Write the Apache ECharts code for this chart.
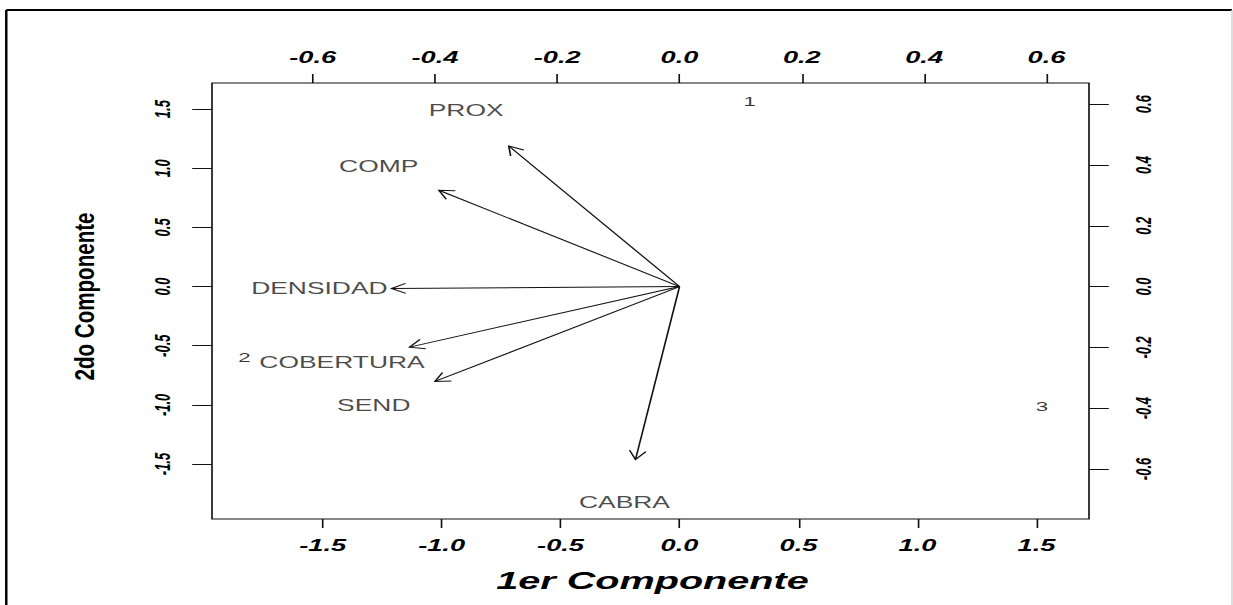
<!DOCTYPE html>
<html>
<head>
<meta charset="utf-8">
<script src="https://cdn.jsdelivr.net/npm/echarts@6/dist/echarts.min.js"></script>
<style>
  html, body { margin: 0; padding: 0; background: #fff; overflow: hidden; }
  #main { width: 747px; height: 605px; transform: scaleX(1.6506); transform-origin: 0 0; }
</style>
</head>
<body>
<div id="main"></div>
<script>
// ---- data ----
const variableNames = ['PROX', 'COMP', 'DENSIDAD', 'COBERTURA', 'SEND', 'CABRA'];
const loadingX = [-0.349, -0.492, -0.589, -0.552, -0.500, -0.090];
const loadingY = [0.578, 0.396, -0.008, -0.249, -0.390, -0.711];

const observationNames = ['1', '2', '3'];
const scoreX = [0.295, -1.829, 1.523];
const scoreY = [1.571, -0.599, -1.015];

const scoreTicks = [-1.5, -1.0, -0.5, 0.0, 0.5, 1.0, 1.5];
const loadingTicks = [-0.6, -0.4, -0.2, 0.0, 0.2, 0.4, 0.6];

const scoreRange = [-1.965, 1.721];
const loadingRatio = 2.57;     // scale between score axes and loading axes
const arrowScale = 0.8;        // R biplot draws arrows at 0.8 of the loading

// ---- chart ----
const chart = echarts.init(document.getElementById('main'), null, { renderer: 'svg' });
const FONT = '"Liberation Sans", Arial, sans-serif';
const fmt = v => Number(v).toFixed(1);

const tickLabelH = { fontFamily: FONT, fontWeight: 'bold', fontStyle: 'italic', fontSize: 16.5, color: '#000' };
const tickLabelV = { fontFamily: FONT, fontWeight: 'bold', fontStyle: 'italic', fontSize: 13, color: '#000' };

function axisBase(range, ticks) {
  return {
    type: 'value', min: range[0], max: range[1], scale: true,
    axisLine: { show: false, onZero: false }, splitLine: { show: false },
    axisTick: { show: true, customValues: ticks, lineStyle: { color: '#111', width: 1 } },
    axisLabel: { show: true, customValues: ticks, formatter: fmt }
  };
}
const loadRange = [scoreRange[0] / loadingRatio, scoreRange[1] / loadingRatio];

const xBottom = axisBase(scoreRange, scoreTicks);
xBottom.position = 'bottom';
xBottom.axisTick.length = 9;
Object.assign(xBottom.axisLabel, tickLabelH, { margin: 17.5 });

const xTop = axisBase(loadRange, loadingTicks);
xTop.position = 'top';
xTop.axisTick.length = 9;
Object.assign(xTop.axisLabel, tickLabelH, { margin: 17.5 });

const yLeft = axisBase(scoreRange, scoreTicks);
yLeft.position = 'left';
yLeft.axisTick.length = 12;
Object.assign(yLeft.axisLabel, tickLabelV, { rotate: 90, margin: 23.5 });

const yRight = axisBase(loadRange, loadingTicks);
yRight.position = 'right';
yRight.axisTick.length = 12;
Object.assign(yRight.axisLabel, tickLabelV, { rotate: 90, margin: 26.5 });

const loadingData = variableNames.map((n, i) => ({ name: n, value: [loadingX[i], loadingY[i]] }));
const scoreData = observationNames.map((n, i) => ({ name: n, value: [scoreX[i], scoreY[i]] }));

const option = {
  backgroundColor: '#fff',
  animation: false,
  grid: {
    left: 128.44, top: 83, width: 531.32, height: 436,
    show: true, borderColor: '#111', borderWidth: 1, backgroundColor: 'transparent'
  },
  xAxis: [xBottom, xTop],
  yAxis: [yLeft, yRight],
  series: [
    {
      type: 'custom', coordinateSystem: 'cartesian2d', xAxisIndex: 1, yAxisIndex: 1,
      silent: true,
      data: loadingData,
      renderItem: function (params, api) {
        const o = api.coord([0, 0]);
        const t = api.coord([api.value(0) * arrowScale, api.value(1) * arrowScale]);
        const ang = Math.atan2(t[1] - o[1], t[0] - o[0]);
        const L = 10, a = Math.PI / 6;
        const p1 = [t[0] - L * Math.cos(ang - a), t[1] - L * Math.sin(ang - a)];
        const p2 = [t[0] - L * Math.cos(ang + a), t[1] - L * Math.sin(ang + a)];
        return {
          type: 'group',
          children: [
            { type: 'line', shape: { x1: o[0], y1: o[1], x2: t[0], y2: t[1] }, style: { stroke: '#111', lineWidth: 1 } },
            { type: 'polyline', shape: { points: [p1, t, p2] }, style: { stroke: '#111', lineWidth: 1, fill: null } }
          ]
        };
      }
    },
    {
      type: 'scatter', xAxisIndex: 1, yAxisIndex: 1, silent: true,
      symbolSize: 1, itemStyle: { color: 'transparent' },
      data: loadingData,
      label: { show: true, position: 'inside', formatter: '{b}', fontFamily: FONT, fontSize: 16, color: '#1a1a1a' }
    },
    {
      type: 'scatter', xAxisIndex: 0, yAxisIndex: 0, silent: true,
      symbolSize: 1, itemStyle: { color: 'transparent' },
      data: scoreData,
      label: { show: true, position: 'inside', formatter: '{b}', fontFamily: FONT, fontSize: 13.5, color: '#000' }
    }
  ],
  graphic: [
    { type: 'line', shape: { x1: 3.8, y1: 10, x2: 3.8, y2: 605 }, style: { stroke: '#000', lineWidth: 1.5 } },
    { type: 'line', shape: { x1: 3.8, y1: 10, x2: 746.4, y2: 10 }, style: { stroke: '#000', lineWidth: 2 } },
    { type: 'line', shape: { x1: 746.4, y1: 10, x2: 746.4, y2: 605 }, style: { stroke: '#d8d8d8', lineWidth: 1 } },
    {
      type: 'text', x: 395.3, y: 580.5,
      style: { text: '1er Componente', font: 'italic bold 24px ' + FONT, fill: '#000',
               align: 'center', verticalAlign: 'middle', textAlign: 'center', textVerticalAlign: 'middle' }
    },
    {
      type: 'text', x: 50.9, y: 296.5, rotation: Math.PI / 2, scaleY: 0.8,
      style: { text: '2do Componente', font: 'bold 20.6px ' + FONT, fill: '#000',
               align: 'center', verticalAlign: 'middle', textAlign: 'center', textVerticalAlign: 'middle' }
    }
  ]
};
chart.setOption(option);
</script>
</body>
</html>
